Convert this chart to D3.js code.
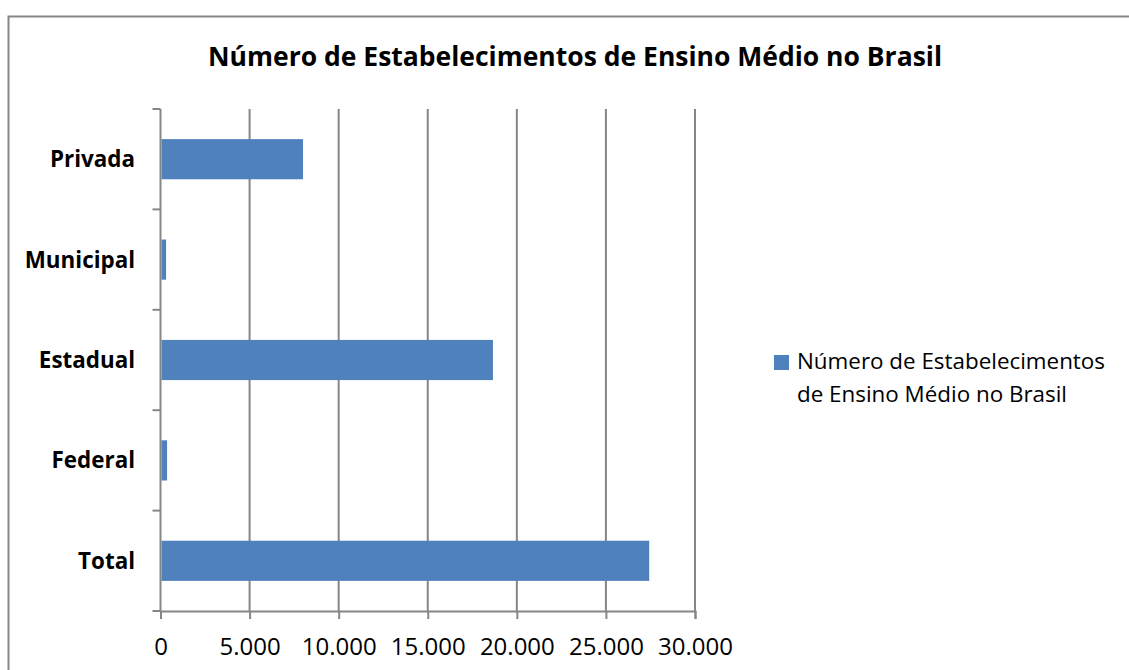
<!DOCTYPE html>
<meta charset="utf-8">
<title>Número de Estabelecimentos de Ensino Médio no Brasil</title>
<script src="https://cdn.jsdelivr.net/npm/d3@7"></script>
<style>
html, body {
    margin: 0;
    background: #fff;
}
svg {
    display: block;
    font-family: "Open Sans", sans-serif;
}
</style>
<body>
<script>
var categories = ["Privada", "Municipal", "Estadual", "Federal", "Total"],
    values = [8000, 315, 18660, 370, 27430],
    xTicks = [0, 5000, 10000, 15000, 20000, 25000, 30000],
    title = "Número de Estabelecimentos de Ensino Médio no Brasil",
    legendLines = ["Número de Estabelecimentos", "de Ensino Médio no Brasil"];

var width = 1129,
    height = 670,
    plotLeft = 160.5,
    plotRight = 695,
    plotTop = 109,
    plotBottom = 611,
    grey = "#868686",
    blue = "#4f81bd";

var svg = d3.select("body").append("svg")
    .attr("width", width)
    .attr("height", height);

// chart frame (only top and left edges visible in the window)
svg.append("rect")
    .attr("x", 8.5)
    .attr("y", 16.5)
    .attr("width", 1200)
    .attr("height", 800)
    .attr("fill", "none")
    .attr("stroke", grey)
    .attr("stroke-width", 2);

svg.append("text")
    .attr("x", 575)
    .attr("y", 66)
    .attr("text-anchor", "middle")
    .attr("font-weight", "bold")
    .attr("font-size", 26.5)
    .text(title);

var x = d3.scaleLinear()
    .domain([0, 30000])
    .range([plotLeft, plotRight]);

var y = d3.scaleBand()
    .domain(categories)
    .range([plotTop, plotBottom])
    .paddingInner(0.6)
    .paddingOuter(0.3);

var fmt = d3.formatLocale({decimal: ",", thousands: ".", grouping: [3], currency: ["R$", ""]}).format(",d");

// vertical gridlines
svg.append("g").selectAll("line")
    .data(xTicks.slice(1))
    .enter().append("line")
    .attr("x1", function(d) { return x(d); })
    .attr("x2", function(d) { return x(d); })
    .attr("y1", plotTop)
    .attr("y2", plotBottom)
    .attr("stroke", grey)
    .attr("stroke-width", 2);

svg.append("g").selectAll("rect")
    .data(categories)
    .enter().append("rect")
    .attr("x", x(0) + 1)
    .attr("y", function(d) { return y(d); })
    .attr("width", function(d, i) { return x(values[i]) - x(0) - 1; })
    .attr("height", y.bandwidth())
    .attr("fill", blue);

// x axis
var xAxis = svg.append("g")
    .attr("transform", "translate(0," + plotBottom + ")")
    .call(d3.axisBottom(x).tickValues(xTicks).tickSize(8).tickPadding(19).tickFormat(fmt));
xAxis.select(".domain").attr("stroke", grey).attr("stroke-width", 2);
xAxis.selectAll(".tick line").attr("stroke", grey).attr("stroke-width", 2);
xAxis.selectAll("text")
    .attr("font-family", "Open Sans")
    .attr("font-size", 24)
    .attr("fill", "#000");

// y axis: ticks sit between the categories
var edges = d3.range(categories.length + 1).map(function(i) {
    return plotTop + i * y.step();
});

svg.append("line")
    .attr("x1", plotLeft)
    .attr("x2", plotLeft)
    .attr("y1", plotTop)
    .attr("y2", plotBottom)
    .attr("stroke", grey)
    .attr("stroke-width", 2);

svg.append("g").selectAll("line")
    .data(edges)
    .enter().append("line")
    .attr("x1", plotLeft - 8)
    .attr("x2", plotLeft)
    .attr("y1", function(d) { return d; })
    .attr("y2", function(d) { return d; })
    .attr("stroke", grey)
    .attr("stroke-width", 2);

svg.append("g").selectAll("text")
    .data(categories)
    .enter().append("text")
    .attr("x", 135)
    .attr("y", function(d) { return y(d) + y.bandwidth() / 2; })
    .attr("dy", "0.36em")
    .attr("text-anchor", "end")
    .attr("font-weight", "bold")
    .attr("font-size", 22.4)
    .text(function(d) { return d; });

// legend
var legend = svg.append("g");
legend.append("rect")
    .attr("x", 774)
    .attr("y", 355)
    .attr("width", 15)
    .attr("height", 15)
    .attr("fill", blue);
legend.selectAll("text")
    .data(legendLines)
    .enter().append("text")
    .attr("x", 797)
    .attr("y", function(d, i) { return 369 + i * 33; })
    .attr("font-size", 22.4)
    .text(function(d) { return d; });
</script>
